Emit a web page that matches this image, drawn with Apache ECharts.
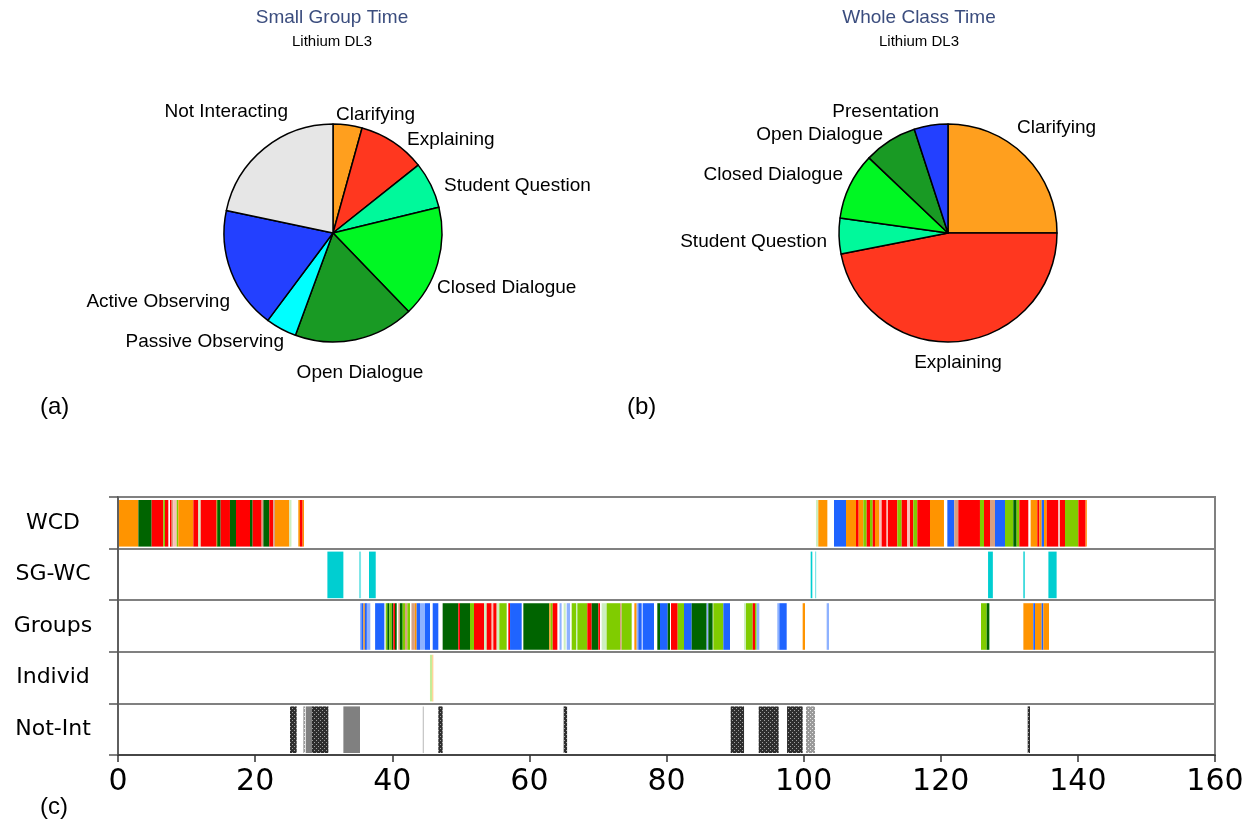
<!DOCTYPE html>
<html>
<head>
<meta charset="utf-8">
<script src="https://cdn.jsdelivr.net/npm/echarts@6/dist/echarts.min.js"></script>
<style>
  html, body { margin: 0; padding: 0; background: #fff; }
  #chart { width: 1250px; height: 823px; }
</style>
</head>
<body>
<div id="chart"></div>
<script>
// ---- Pie (a): share of small group time by interaction type (%)
const smallGroupNames = ['Clarifying', 'Explaining', 'Student Question', 'Closed Dialogue',
  'Open Dialogue', 'Passive Observing', 'Active Observing', 'Not Interacting'];
const smallGroupValues = [4.3, 10.0, 6.9, 16.6, 17.8, 4.6, 18.1, 21.7];

// ---- Pie (b): share of whole class time by interaction type (%)
const wholeClassNames = ['Clarifying', 'Explaining', 'Student Question', 'Closed Dialogue',
  'Open Dialogue', 'Presentation'];
const wholeClassValues = [25.0, 46.9, 5.3, 9.9, 7.9, 5.0];

// ---- Timeline (c): rows and coded segments [start, end, code] in minutes
const timelineRows = ['WCD', 'SG-WC', 'Groups', 'Individ', 'Not-Int'];
const xTicks = { min: 0, max: 160, step: 20 };

const wcdSegments = [
  [0.15, 2.97, 'O'], [2.97, 4.91, 'G'], [4.91, 6.61, 'R'], [6.61, 6.85, 'Y'], [6.85, 7.34, 'R'],
  [7.58, 7.83, 'R'], [7.83, 8.07, 'T'], [8.07, 8.56, 'P'], [8.56, 8.80, 'Y'], [8.80, 10.99, 'O'],
  [10.99, 11.72, 'R'], [11.72, 12.06, 'L'], [12.06, 14.39, 'R'], [14.39, 14.49, 'Y'], [14.49, 14.97, 'G'],
  [14.97, 16.33, 'R'], [16.33, 17.21, 'G'], [17.21, 19.25, 'R'], [19.25, 19.64, 'G'], [19.64, 20.95, 'R'],
  [20.95, 21.2, 'T'], [21.2, 22.07, 'G'], [22.07, 22.65, 'R'], [22.65, 22.9, 'T'], [22.9, 24.99, 'O'],
  [24.99, 25.3, 'L'], [26.3, 26.54, 'O'], [26.54, 26.93, 'R'], [26.93, 27.13, 'O'],
  [101.8, 102.14, 'L'], [102.14, 103.46, 'O'], [104.43, 106.18, 'B'], [106.18, 107.64, 'O'], [107.64, 108.03, 'R'],
  [108.03, 108.71, 'O'], [108.71, 109.19, 'Y'], [109.19, 109.68, 'R'], [109.68, 110.07, 'Y'], [110.07, 110.41, 'R'],
  [110.41, 110.99, 'O'], [110.99, 111.38, 'P'], [111.38, 112.1, 'R'], [112.1, 112.3, 'P'], [112.3, 113.67, 'R'],
  [113.67, 114.30, 'Y'], [114.30, 115.12, 'R'], [115.12, 115.51, 'P'], [115.51, 116.0, 'R'], [116.0, 116.58, 'Y'],
  [116.58, 118.43, 'R'], [118.43, 120.47, 'O'], [120.96, 121.98, 'B'], [121.98, 122.56, 'T'], [122.56, 125.72, 'R'],
  [125.72, 126.31, 'Y'], [126.31, 127.18, 'R'], [127.18, 127.91, 'T'], [127.91, 129.37, 'B'], [129.37, 130.58, 'Y'],
  [130.58, 131.07, 'G'], [131.07, 131.46, 'Y'], [131.46, 132.77, 'R'], [133.11, 134.08, 'O'], [134.08, 134.38, 'R'],
  [134.38, 134.72, 'O'], [134.72, 135.06, 'B'], [135.06, 135.45, 'O'], [135.45, 137.15, 'R'], [137.15, 137.39, 'P'],
  [137.39, 138.12, 'R'], [138.12, 140.07, 'Y'], [140.07, 141.13, 'R'], [141.13, 141.28, 'O']
];

const sgwcSegments = [
  [30.54, 32.87, 'C'], [35.15, 35.45, 'LC'], [36.61, 37.59, 'C'], [101.03, 101.27, 'C'],
  [101.66, 101.8, 'LC'], [126.9, 127.6, 'C'], [132.05, 132.25, 'C'], [135.7, 136.9, 'C']
];

const groupSegments = [
  [35.3, 35.5, 'LB'], [35.5, 35.8, 'B'], [35.8, 36.0, 'O'], [36.0, 36.3, 'B'], [36.3, 36.8, 'LB'],
  [37.5, 38.85, 'B'], [39.04, 39.28, 'Y'], [39.28, 39.57, 'G'], [39.57, 39.92, 'Y'], [39.92, 40.16, 'G'],
  [40.16, 40.4, 'R'], [40.4, 40.65, 'G'], [40.89, 41.13, 'T'], [41.13, 41.52, 'G'], [41.52, 41.86, 'Y'],
  [41.86, 42.2, 'T'], [42.2, 42.59, 'Y'], [42.8, 43.3, 'T'], [43.3, 43.56, 'O'], [43.56, 44.05, 'B'],
  [44.05, 44.78, 'LB'], [44.78, 45.51, 'B'], [45.9, 46.72, 'B'], [47.35, 49.64, 'G'], [49.64, 49.88, 'R'],
  [49.88, 51.34, 'G'], [51.34, 51.92, 'Y'], [51.92, 53.38, 'R'], [53.38, 53.77, 'L'], [53.77, 54.5, 'R'],
  [54.5, 54.74, 'P'], [54.74, 55.23, 'R'], [55.23, 55.62, 'L'], [55.62, 56.69, 'Y'], [56.93, 57.18, 'R'],
  [57.18, 58.88, 'B'], [59.12, 62.91, 'G'], [62.91, 63.1, 'O'], [63.1, 63.4, 'Y'], [63.4, 64.08, 'R'],
  [64.4, 64.7, 'LB'], [65.0, 65.3, 'L'], [65.44, 65.93, 'LB'], [66.17, 66.8, 'Y'], [66.8, 67.0, 'L'],
  [67.0, 68.45, 'Y'], [68.45, 69.09, 'R'], [69.09, 70.06, 'G'], [70.06, 70.3, 'R'], [70.54, 71.27, 'L'],
  [71.27, 73.22, 'Y'], [73.22, 73.46, 'T'], [73.46, 74.92, 'Y'], [75.31, 75.65, 'O'], [75.65, 75.89, 'LB'],
  [75.89, 76.38, 'B'], [76.52, 78.18, 'B'], [78.66, 79.05, 'G'], [79.05, 80.17, 'B'], [80.17, 80.51, 'G'],
  [80.66, 81.63, 'R'], [81.63, 82.55, 'Y'], [82.55, 83.67, 'B'], [83.67, 85.86, 'G'], [85.86, 86.1, 'LB'],
  [86.1, 86.73, 'G'], [86.83, 88.29, 'Y'], [88.29, 89.26, 'B'], [91.3, 91.59, 'L'], [91.59, 92.57, 'Y'],
  [92.57, 92.91, 'R'], [92.91, 93.15, 'Y'], [93.15, 93.54, 'LB'], [96.16, 96.46, 'LB'], [96.46, 97.53, 'B'],
  [99.86, 100.2, 'O'], [103.36, 103.7, 'LB'], [125.87, 126.7, 'Y'], [126.7, 127.09, 'G'], [132.05, 133.5, 'O'],
  [133.5, 133.75, 'B'], [133.75, 134.72, 'O'], [134.72, 134.96, 'B'], [134.96, 135.79, 'O']
];

const individSegments = [
  [45.5, 45.8, 'LY'], [45.8, 46.0, 'LO']
];

const notIntSegments = [
  [25.09, 26.06, 'D'], [27.03, 27.32, 'S'], [27.42, 28.25, 'H'], [28.25, 30.68, 'D'], [32.87, 35.3, 'H'],
  [44.44, 44.63, 'V'], [46.72, 47.35, 'D'], [65.0, 65.5, 'D'], [89.36, 91.31, 'D'], [93.45, 96.36, 'D'],
  [97.58, 99.86, 'D'], [100.35, 101.66, 'S'], [132.68, 133.02, 'D']
];

// ---- styling
const pieColors = {
  'Clarifying': '#FF9F1E', 'Explaining': '#FF371F', 'Student Question': '#00F99B',
  'Closed Dialogue': '#00F723', 'Open Dialogue': '#199A24', 'Passive Observing': '#00FFFF',
  'Active Observing': '#2340FF', 'Not Interacting': '#E6E6E6', 'Presentation': '#2340FF'
};

// Label anchors around each pie, as offsets from the pie centre: [dx, dy, align]
const smallGroupLabelPlace = {
  'Not Interacting': [-45, -121, 'right'], 'Clarifying': [3, -118, 'left'],
  'Explaining': [74, -93, 'left'], 'Student Question': [111, -47, 'left'],
  'Closed Dialogue': [104, 55, 'left'], 'Open Dialogue': [27, 140, 'center'],
  'Passive Observing': [-49, 109, 'right'], 'Active Observing': [-103, 69, 'right']
};
const wholeClassLabelPlace = {
  'Presentation': [-9, -121, 'right'], 'Open Dialogue': [-65, -98, 'right'],
  'Closed Dialogue': [-105, -58, 'right'], 'Student Question': [-121, 9, 'right'],
  'Clarifying': [69, -105, 'left'], 'Explaining': [10, 130, 'center']
};

function dotPattern(bg, dot) {
  const c = document.createElement('canvas');
  c.width = 4; c.height = 4;
  const g = c.getContext('2d');
  g.fillStyle = bg; g.fillRect(0, 0, 4, 4);
  g.fillStyle = dot; g.fillRect(0, 0, 1, 1); g.fillRect(2, 2, 1, 1);
  return { image: c, repeat: 'repeat' };
}

const segColors = {
  O: '#FF9400', R: '#FF0000', G: '#006400', Y: '#80CC00', B: '#1F64FF', T: '#D8A080',
  P: '#F8C0B8', L: '#CDEFC0', C: '#00CED1', LC: '#80E6E8', LB: '#8EB2FF',
  LY: '#C4EC98', LO: '#FFD49A', H: '#808080', V: '#C8C8C8',
  D: dotPattern('#2e2e2e', '#a0a0a0'), S: dotPattern('#9a9a9a', '#e8e8e8')
};

const rowSegments = [wcdSegments, sgwcSegments, groupSegments, individSegments, notIntSegments];
const timelineData = [];
rowSegments.forEach((segs, r) => segs.forEach(s => timelineData.push([r, s[0], s[1], s[2]])));

const labelFont = '"Liberation Sans", Arial, Helvetica, sans-serif';
const axisFont = '"DejaVu Sans", Verdana, sans-serif';

function pieData(names, values) {
  return names.map((n, i) => ({ name: n, value: values[i], itemStyle: { color: pieColors[n] } }));
}

const pieRadius = 109;

function pieSeries(names, values, cx, cy, place) {
  return {
    type: 'pie',
    center: [cx, cy],
    radius: pieRadius,
    startAngle: 90,
    clockwise: true,
    animation: false,
    data: pieData(names, values),
    itemStyle: { borderColor: '#000', borderWidth: 1.5 },
    label: {
      show: true, position: 'outside', formatter: '{b}',
      fontFamily: labelFont, fontSize: 19, color: '#000'
    },
    labelLine: { show: false, length: 10, length2: 0 },
    labelLayout: function (params) {
      const p = place[names[params.dataIndex]];
      return { x: cx + p[0], y: cy + p[1], align: p[2], verticalAlign: 'middle' };
    },
    emphasis: { disabled: true }
  };
}

const chart = echarts.init(document.getElementById('chart'), null, { renderer: 'canvas' });

chart.setOption({
  animation: false,
  backgroundColor: '#fff',
  title: [
    {
      text: 'Small Group Time', subtext: 'Lithium DL3', left: 327, top: 3, textAlign: 'center', itemGap: 7,
      textStyle: { fontFamily: labelFont, fontSize: 19, fontWeight: 'normal', color: '#3B4D7E' },
      subtextStyle: { fontFamily: labelFont, fontSize: 15, color: '#000' }
    },
    {
      text: 'Whole Class Time', subtext: 'Lithium DL3', left: 914, top: 3, textAlign: 'center', itemGap: 7,
      textStyle: { fontFamily: labelFont, fontSize: 19, fontWeight: 'normal', color: '#3B4D7E' },
      subtextStyle: { fontFamily: labelFont, fontSize: 15, color: '#000' }
    }
  ],
  graphic: [
    { type: 'text', left: 40, top: 395, style: { text: '(a)', font: '24px ' + labelFont, fill: '#000' } },
    { type: 'text', left: 627, top: 395, style: { text: '(b)', font: '24px ' + labelFont, fill: '#000' } },
    { type: 'text', left: 40, top: 795, style: { text: '(c)', font: '24px ' + labelFont, fill: '#000' } }
  ],
  grid: { left: 118, right: 35, top: 497, height: 258, show: true, borderColor: '#808080', borderWidth: 2 },
  xAxis: {
    type: 'value', min: xTicks.min, max: xTicks.max, interval: xTicks.step,
    axisLine: { show: true, lineStyle: { color: '#333', width: 1.5 } },
    axisTick: { show: true, length: 7, lineStyle: { color: '#333', width: 1.5 } },
    axisLabel: { fontFamily: axisFont, fontSize: 30, color: '#000', margin: 12 },
    splitLine: { show: false }
  },
  yAxis: {
    type: 'category', data: timelineRows, inverse: true,
    axisLine: { show: true, lineStyle: { color: '#555', width: 1.5 } },
    axisTick: { show: true, length: 9, lineStyle: { color: '#555', width: 1.5 } },
    axisLabel: { fontFamily: axisFont, fontSize: 22, color: '#000', margin: 65, align: 'center' },
    splitLine: { show: true, lineStyle: { color: '#808080', width: 2 } }
  },
  series: [
    pieSeries(smallGroupNames, smallGroupValues, 333, 233, smallGroupLabelPlace),
    pieSeries(wholeClassNames, wholeClassValues, 948, 233, wholeClassLabelPlace),
    {
      type: 'custom',
      data: timelineData,
      encode: { x: [1, 2], y: 0 },
      renderItem: function (params, api) {
        const row = api.value(0);
        const p0 = api.coord([api.value(1), row]);
        const p1 = api.coord([api.value(2), row]);
        const h = api.size([0, 1])[1];
        const rect = echarts.graphic.clipRectByRect(
          { x: p0[0], y: p0[1] - h / 2 + 3, width: Math.max(p1[0] - p0[0], 1.2), height: h - 5 },
          { x: params.coordSys.x, y: params.coordSys.y, width: params.coordSys.width, height: params.coordSys.height }
        );
        const code = timelineData[params.dataIndex][3];
        return rect && { type: 'rect', shape: rect, style: { fill: segColors[code] } };
      }
    }
  ]
});
</script>
</body>
</html>
